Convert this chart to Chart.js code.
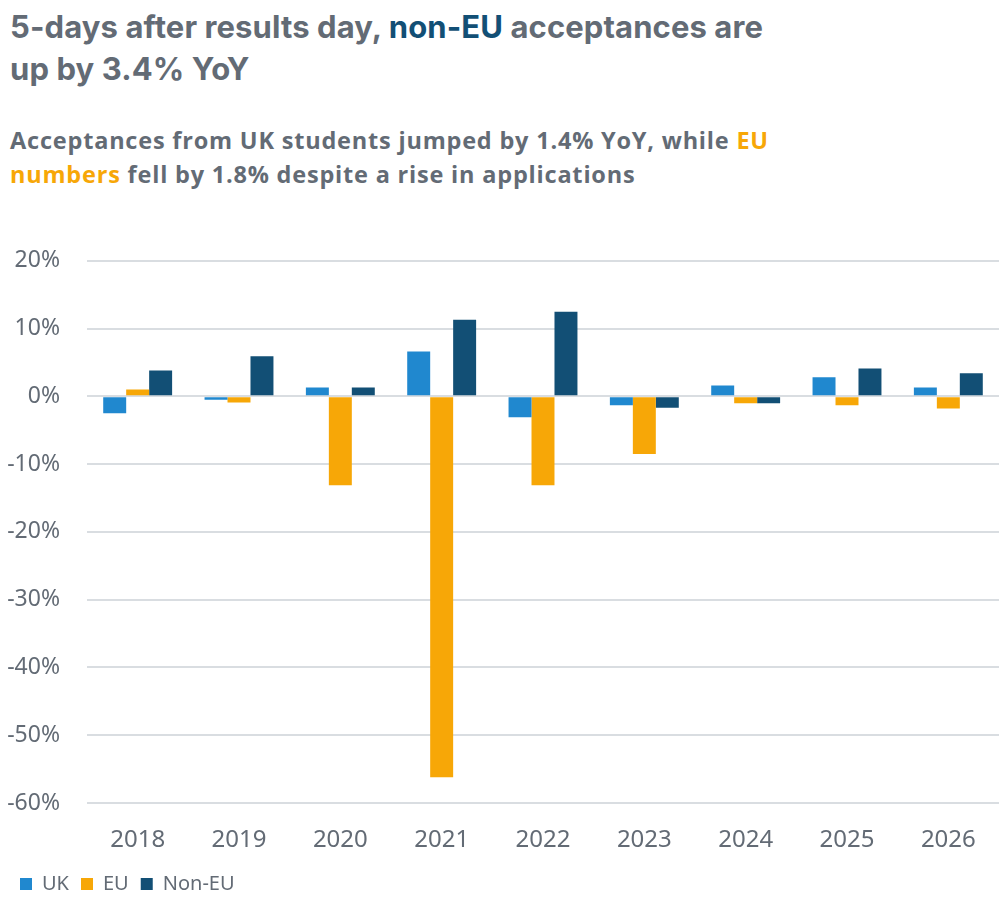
<!DOCTYPE html>
<html>
<head>
<meta charset="utf-8">
<script src="https://cdn.jsdelivr.net/npm/chart.js@4"></script>
<style>
  html, body { margin: 0; padding: 0; background: #fff; }
  body { width: 999px; height: 904px; position: relative; overflow: hidden; }
  .title {
    position: absolute; left: 10px; top: 6px; width: 900px;
    font-family: "Inter", sans-serif; font-weight: 700; font-size: 31px;
    line-height: 42px; color: #636b75; letter-spacing: 0.1px;
  }
  .subtitle {
    position: absolute; left: 10px; top: 123px; width: 900px;
    font-family: "Open Sans", sans-serif; font-weight: 700; font-size: 23.5px;
    line-height: 34px; color: #636b75; letter-spacing: 0.8px;
  }
  .navy { color: #124f75; }
  .gold { color: #f7a707; }
  #wrap { position: absolute; left: 0; top: 220px; width: 999px; height: 684px; }
</style>
</head>
<body>
<div class="title">5-days after results day, <span class="navy">non-EU</span> acceptances are<br>up by 3.4% YoY</div>
<div class="subtitle">Acceptances from UK students jumped by 1.4% YoY, while <span class="gold">EU<br>numbers</span> fell by 1.8% despite a rise in applications</div>
<div id="wrap"><canvas id="chart"></canvas></div>
<script>
// Year-on-year change in acceptances, %
const years = ["2018", "2019", "2020", "2021", "2022", "2023", "2024", "2025", "2026"];
const ukValues = [-2.5, -0.5, 1.3, 6.6, -3.1, -1.3, 1.6, 2.8, 1.3];
const euValues = [1.0, -0.9, -13.1, -56.2, -13.1, -8.5, -1.0, -1.3, -1.8];
const nonEuValues = [3.8, 5.9, 1.3, 11.3, 12.5, -1.7, -1.0, 4.1, 3.4];
const yTicks = [20, 10, 0, -10, -20, -30, -40, -50, -60];

const grey = "#636b75";

new Chart(document.getElementById("chart"), {
    type: "bar",
    data: {
        labels: years,
        datasets: [
            { label: "UK", data: ukValues, backgroundColor: "#2088cf" },
            { label: "EU", data: euValues, backgroundColor: "#f7a707" },
            { label: "Non-EU", data: nonEuValues, backgroundColor: "#124f75" }
        ]
    },
    options: {
        responsive: true,
        maintainAspectRatio: false,
        animation: false,
        datasets: { bar: { barPercentage: 1, categoryPercentage: 0.68 } },
        layout: { padding: { top: 8, left: 8, right: 0, bottom: 0 } },
        plugins: {
            legend: {
                position: "bottom",
                align: "start",
                labels: {
                    boxWidth: 12, boxHeight: 12, padding: 12,
                    color: grey,
                    font: { family: "Noto Sans", size: 20 }
                }
            },
            tooltip: { enabled: false }
        },
        scales: {
            x: {
                grid: { display: false },
                border: { display: false },
                afterFit: scale => { scale.height = 59; },
                ticks: { color: grey, font: { family: "Noto Sans", size: 24 }, padding: 15 }
            },
            y: {
                min: -60,
                max: 20,
                afterBuildTicks: scale => { scale.ticks = yTicks.map(v => ({ value: v })); },
                afterFit: scale => { scale.width = 79; },
                grid: { color: "#d9dde1", lineWidth: 2, drawTicks: false },
                border: { display: false },
                ticks: {
                    color: grey,
                    padding: 27,
                    font: { family: "Noto Sans", size: 23 },
                    callback: v => v + "%"
                }
            }
        }
    }
});
</script>
</body>
</html>
